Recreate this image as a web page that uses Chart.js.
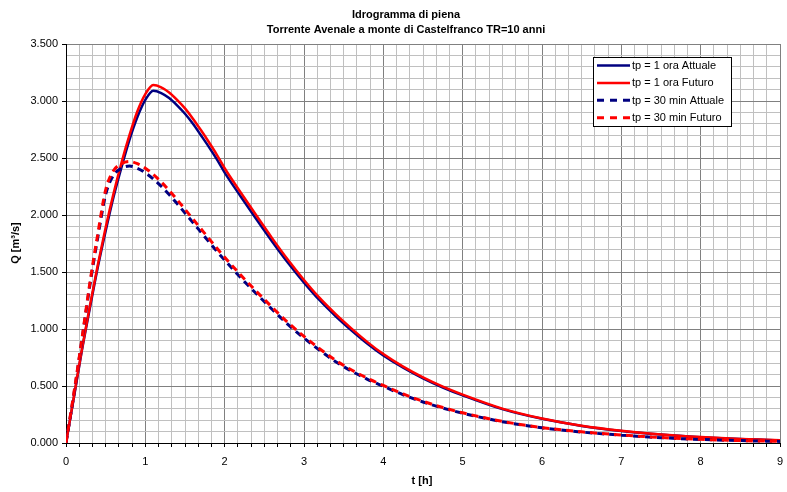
<!DOCTYPE html>
<html>
<head>
<meta charset="utf-8">
<script src="https://cdn.jsdelivr.net/npm/chart.js@4/dist/chart.umd.min.js"></script>
<style>
  html, body { margin: 0; padding: 0; background: #ffffff; }
  #wrap { width: 787px; height: 492px; }
</style>
</head>
<body>
<div id="wrap"><canvas id="grafico" width="787" height="492"></canvas></div>
<script>
// Titolo e nomi delle serie
const titolo = ['Idrogramma di piena', 'Torrente Avenale a monte di Castelfranco TR=10 anni'];
const nomiSerie = ['tp = 1 ora Attuale', 'tp = 1 ora Futuro', 'tp = 30 min Attuale', 'tp = 30 min Futuro'];
const titoloAsseX = 't [h]';
const titoloAsseY = 'Q [m³/s]';

// Etichette degli assi
const oreEtichette = ['0', '1', '2', '3', '4', '5', '6', '7', '8', '9'];
const portataEtichette = ['0.000', '0.500', '1.000', '1.500', '2.000', '2.500', '3.000', '3.500'];

// Istanti di calcolo [h]
const tempi = [0, 0.1, 0.2, 0.3, 0.4, 0.5, 0.6, 0.7, 0.8, 0.9, 1.0,
  1.1, 1.2, 1.3, 1.4, 1.5, 1.6, 1.7, 1.8, 1.9, 2.0,
  2.2, 2.4, 2.6, 2.8, 3.0, 3.2, 3.4, 3.6, 3.8, 4.0,
  4.25, 4.5, 4.75, 5.0, 5.5, 6.0, 6.5, 7.0, 7.5, 8.0, 8.5, 9.0];

// Portate [m³/s]
const q1oraAttuale = [0, 0.40, 0.81, 1.18, 1.54, 1.86, 2.16, 2.42, 2.66, 2.86, 3.01,
  3.09, 3.07, 3.026, 2.962, 2.888, 2.80, 2.70, 2.598, 2.49, 2.372,
  2.165, 1.963, 1.766, 1.579, 1.407, 1.25, 1.112, 0.987, 0.871, 0.768,
  0.66, 0.567, 0.487, 0.418, 0.297, 0.212, 0.15, 0.106, 0.074, 0.051, 0.034, 0.024];
const q1oraFuturo = [0, 0.41, 0.82, 1.20, 1.56, 1.89, 2.19, 2.46, 2.70, 2.91, 3.06,
  3.14, 3.12, 3.075, 3.01, 2.935, 2.845, 2.745, 2.64, 2.53, 2.41,
  2.20, 1.995, 1.795, 1.605, 1.43, 1.27, 1.13, 1.003, 0.885, 0.78,
  0.67, 0.576, 0.495, 0.425, 0.302, 0.215, 0.152, 0.108, 0.075, 0.052, 0.035, 0.024];
const q30minAttuale = [0, 0.43, 0.90, 1.38, 1.80, 2.18, 2.35, 2.41, 2.43, 2.41, 2.37,
  2.317, 2.253, 2.18, 2.10, 2.017, 1.934, 1.85, 1.766, 1.683, 1.604,
  1.451, 1.309, 1.171, 1.038, 0.92, 0.812, 0.713, 0.63, 0.559, 0.497,
  0.423, 0.36, 0.306, 0.261, 0.187, 0.133, 0.096, 0.069, 0.047, 0.031, 0.021, 0.014];
const q30minFuturo = [0, 0.44, 0.91, 1.40, 1.83, 2.22, 2.39, 2.45, 2.47, 2.45, 2.41,
  2.355, 2.29, 2.215, 2.135, 2.05, 1.965, 1.88, 1.795, 1.71, 1.63,
  1.475, 1.33, 1.19, 1.055, 0.935, 0.825, 0.725, 0.64, 0.568, 0.505,
  0.43, 0.366, 0.311, 0.265, 0.19, 0.135, 0.098, 0.07, 0.048, 0.032, 0.021, 0.014];

const BLU = '#000080';
const ROSSO = '#ff0000';
const FONT = '"Liberation Sans", Arial, sans-serif';

function punti(valori) {
  return tempi.map((t, i) => ({ x: t, y: valori[i] }));
}

function serie(nome, valori, colore, tratteggio, spessore, ordine) {
  return {
    label: nome,
    data: punti(valori),
    borderColor: colore,
    backgroundColor: colore,
    borderWidth: spessore,
    borderDash: tratteggio,
    pointRadius: 0,
    fill: false,
    cubicInterpolationMode: 'monotone',
    order: ordine
  };
}

// Titolo, titoli degli assi e legenda disegnati sul canvas
const decorazioni = {
  id: 'decorazioni',
  afterDraw(chart) {
    const ctx = chart.ctx;
    ctx.save();
    ctx.fillStyle = '#000';
    ctx.textAlign = 'center';
    ctx.textBaseline = 'middle';
    ctx.font = 'bold 11px ' + FONT;
    ctx.fillText(titolo[0], 406, 14.5);
    ctx.fillText(titolo[1], 406, 30);

    ctx.fillText(titoloAsseX, 422, 481);
    ctx.save();
    ctx.translate(16, 243);
    ctx.rotate(-Math.PI / 2);
    ctx.fillText(titoloAsseY, 0, 0);
    ctx.restore();

    // legenda
    const lx = 593.5, ly = 57.5, lw = 138, lh = 69;
    ctx.fillStyle = '#fff';
    ctx.fillRect(lx, ly, lw, lh);
    ctx.strokeStyle = '#000';
    ctx.lineWidth = 1;
    ctx.setLineDash([]);
    ctx.strokeRect(lx, ly, lw, lh);
    ctx.font = '11px ' + FONT;
    ctx.textAlign = 'left';
    chart.data.datasets.forEach((ds, i) => {
      const y = 65.5 + i * 17.4;
      ctx.strokeStyle = ds.borderColor;
      ctx.lineWidth = ds.borderWidth;
      ctx.setLineDash(ds.borderDash.length ? [7, 6] : []);
      ctx.beginPath();
      ctx.moveTo(597, y);
      ctx.lineTo(630, y);
      ctx.stroke();
      ctx.setLineDash([]);
      ctx.fillStyle = '#000';
      ctx.fillText(ds.label, 632, y + 0.5);
    });
    ctx.restore();
  }
};

Chart.defaults.font.family = FONT;

new Chart(document.getElementById('grafico'), {
  type: 'line',
  data: {
    datasets: [
      serie(nomiSerie[0], q1oraAttuale, BLU, [], 2.5, 4),
      serie(nomiSerie[1], q1oraFuturo, ROSSO, [], 2.5, 3),
      serie(nomiSerie[2], q30minAttuale, BLU, [7, 5], 3, 2),
      serie(nomiSerie[3], q30minFuturo, ROSSO, [7, 5], 3, 1)
    ]
  },
  options: {
    responsive: false,
    animation: false,
    events: [],
    layout: { padding: { top: 44, right: 7, left: 0, bottom: 0 } },
    plugins: {
      legend: { display: false },
      tooltip: { enabled: false },
      title: { display: false }
    },
    scales: {
      x: {
        type: 'linear',
        min: 0,
        max: 9,
        afterBuildTicks(scale) {
          const t = [];
          for (let i = 0; i <= 54; i++) t.push({ value: i / 6 });
          scale.ticks = t;
        },
        afterFit(scale) {
          scale.height = 49;
          scale.paddingLeft = 0;
          scale.paddingRight = 0;
        },
        ticks: {
          autoSkip: false,
          maxRotation: 0,
          padding: 8,
          color: '#000',
          font: { size: 11 },
          callback: (v, i) => (i % 6 === 0 ? oreEtichette[i / 6] : '')
        },
        grid: {
          color: (c) => (c.index % 6 === 0 ? '#808080' : '#c0c0c0'),
          lineWidth: 1,
          tickLength: 4,
          tickColor: '#000'
        },
        border: { color: '#000', width: 1 }
      },
      y: {
        type: 'linear',
        min: 0,
        max: 3.5,
        afterBuildTicks(scale) {
          const t = [];
          for (let i = 0; i <= 35; i++) t.push({ value: i / 10 });
          scale.ticks = t;
        },
        afterFit(scale) {
          scale.width = 66;
          scale.paddingTop = 0;
          scale.paddingBottom = 0;
        },
        ticks: {
          autoSkip: false,
          padding: 4,
          color: '#000',
          font: { size: 11 },
          callback: (v, i) => (i % 5 === 0 ? portataEtichette[i / 5] : '')
        },
        grid: {
          color: (c) => (c.index % 5 === 0 ? '#808080' : '#c0c0c0'),
          lineWidth: 1,
          tickLength: 4,
          tickColor: (c) => (c.index % 5 === 0 ? '#000' : 'rgba(0,0,0,0)')
        },
        border: { color: '#000', width: 1 }
      }
    }
  },
  plugins: [decorazioni]
});
</script>
</body>
</html>
